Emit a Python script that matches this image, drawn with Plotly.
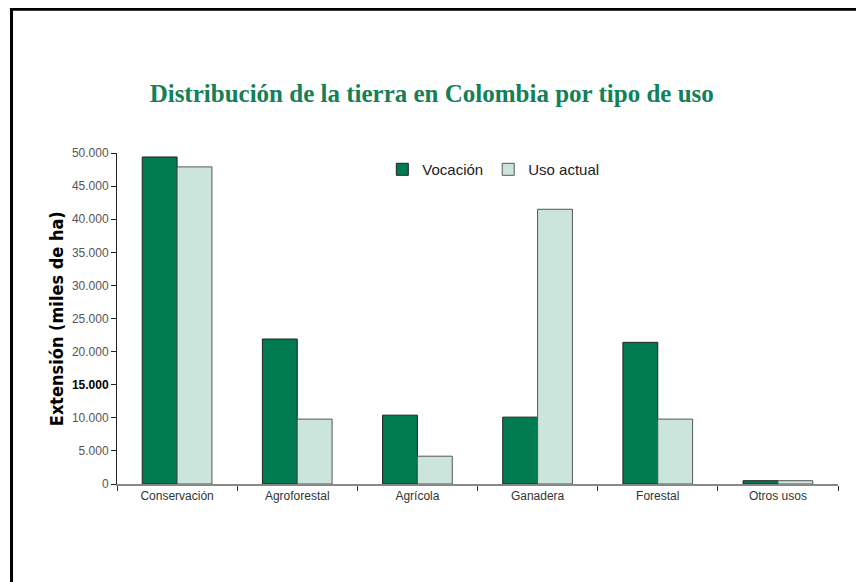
import plotly.graph_objects as go

# Data (miles de ha)
categorias = ["Conservación", "Agroforestal", "Agrícola", "Ganadera", "Forestal", "Otros usos"]
vocacion = [49400, 21900, 10400, 10100, 21400, 500]
uso_actual = [47900, 9800, 4200, 41500, 9800, 500]

y_ticks = [0, 5000, 10000, 15000, 20000, 25000, 30000, 35000, 40000, 45000, 50000]
y_ticktext = ["0", "5.000", "10.000", "<b><span style='color:black'>15.000</span></b>",
              "20.000", "25.000", "30.000", "35.000", "40.000", "45.000", "50.000"]

verde_oscuro = "#007A4F"
verde_claro = "#CCE5DC"

fig = go.Figure()
fig.add_trace(go.Bar(x=categorias, y=vocacion, name="Vocación",
                     marker=dict(color=verde_oscuro, line=dict(color="#222", width=1))))
fig.add_trace(go.Bar(x=categorias, y=uso_actual, name="Uso actual",
                     marker=dict(color=verde_claro, line=dict(color="#555", width=1))))

# page frame (left + top black lines)
fig.add_shape(type="line", xref="paper", yref="paper", x0=-0.1463, x1=-0.1463, y0=1.436, y1=-0.3,
              line=dict(color="black", width=3))
fig.add_shape(type="line", xref="paper", yref="paper", x0=-0.1485, x1=1.04, y0=1.434, y1=1.434,
              line=dict(color="black", width=3))

# the page body adds an 8px margin, so the figure is a little smaller than the window
fig.update_layout(
    width=856, height=574,
    margin=dict(l=109, r=26, t=145, b=98),
    paper_bgcolor="white", plot_bgcolor="white",
    barmode="group", bargap=0.42, bargroupgap=0,
    title=dict(text="<b>Distribución de la tierra en Colombia por tipo de uso</b>",
               x=0.495, xref="container", xanchor="center", y=0.852, yref="container", yanchor="middle",
               font=dict(family="Liberation Serif, serif", size=25, color="#138058")),
    font=dict(family="Liberation Sans, Arial, sans-serif", size=12, color="#444"),
    legend=dict(orientation="h", x=0.368, y=0.95, xanchor="left", yanchor="middle",
                font=dict(size=15, color="#222"), bgcolor="rgba(0,0,0,0)",
                itemwidth=30, tracegroupgap=0),
    showlegend=True,
)
fig.update_xaxes(showline=True, linecolor="#888", linewidth=2, ticks="outside", tickson="boundaries",
                 ticklen=5, tickcolor="#333", showgrid=False,
                 tickfont=dict(size=12, color="#333"))
fig.update_yaxes(range=[0, 50000], tickvals=y_ticks, ticktext=y_ticktext, showline=True,
                 linecolor="#222", linewidth=1, ticks="outside", ticklen=5, tickcolor="#222",
                 showgrid=False, zeroline=False, tickfont=dict(size=12, color="#555"))

fig.add_annotation(text="<b>Extensión (miles de ha)</b>", xref="paper", yref="paper",
                   x=-0.101, y=0.50, textangle=-90, showarrow=False,
                   font=dict(family="Liberation Sans Narrow, DejaVu Sans Condensed, Arial Narrow, sans-serif",
                             size=18, color="black"))

fig.write_html("out.html")
